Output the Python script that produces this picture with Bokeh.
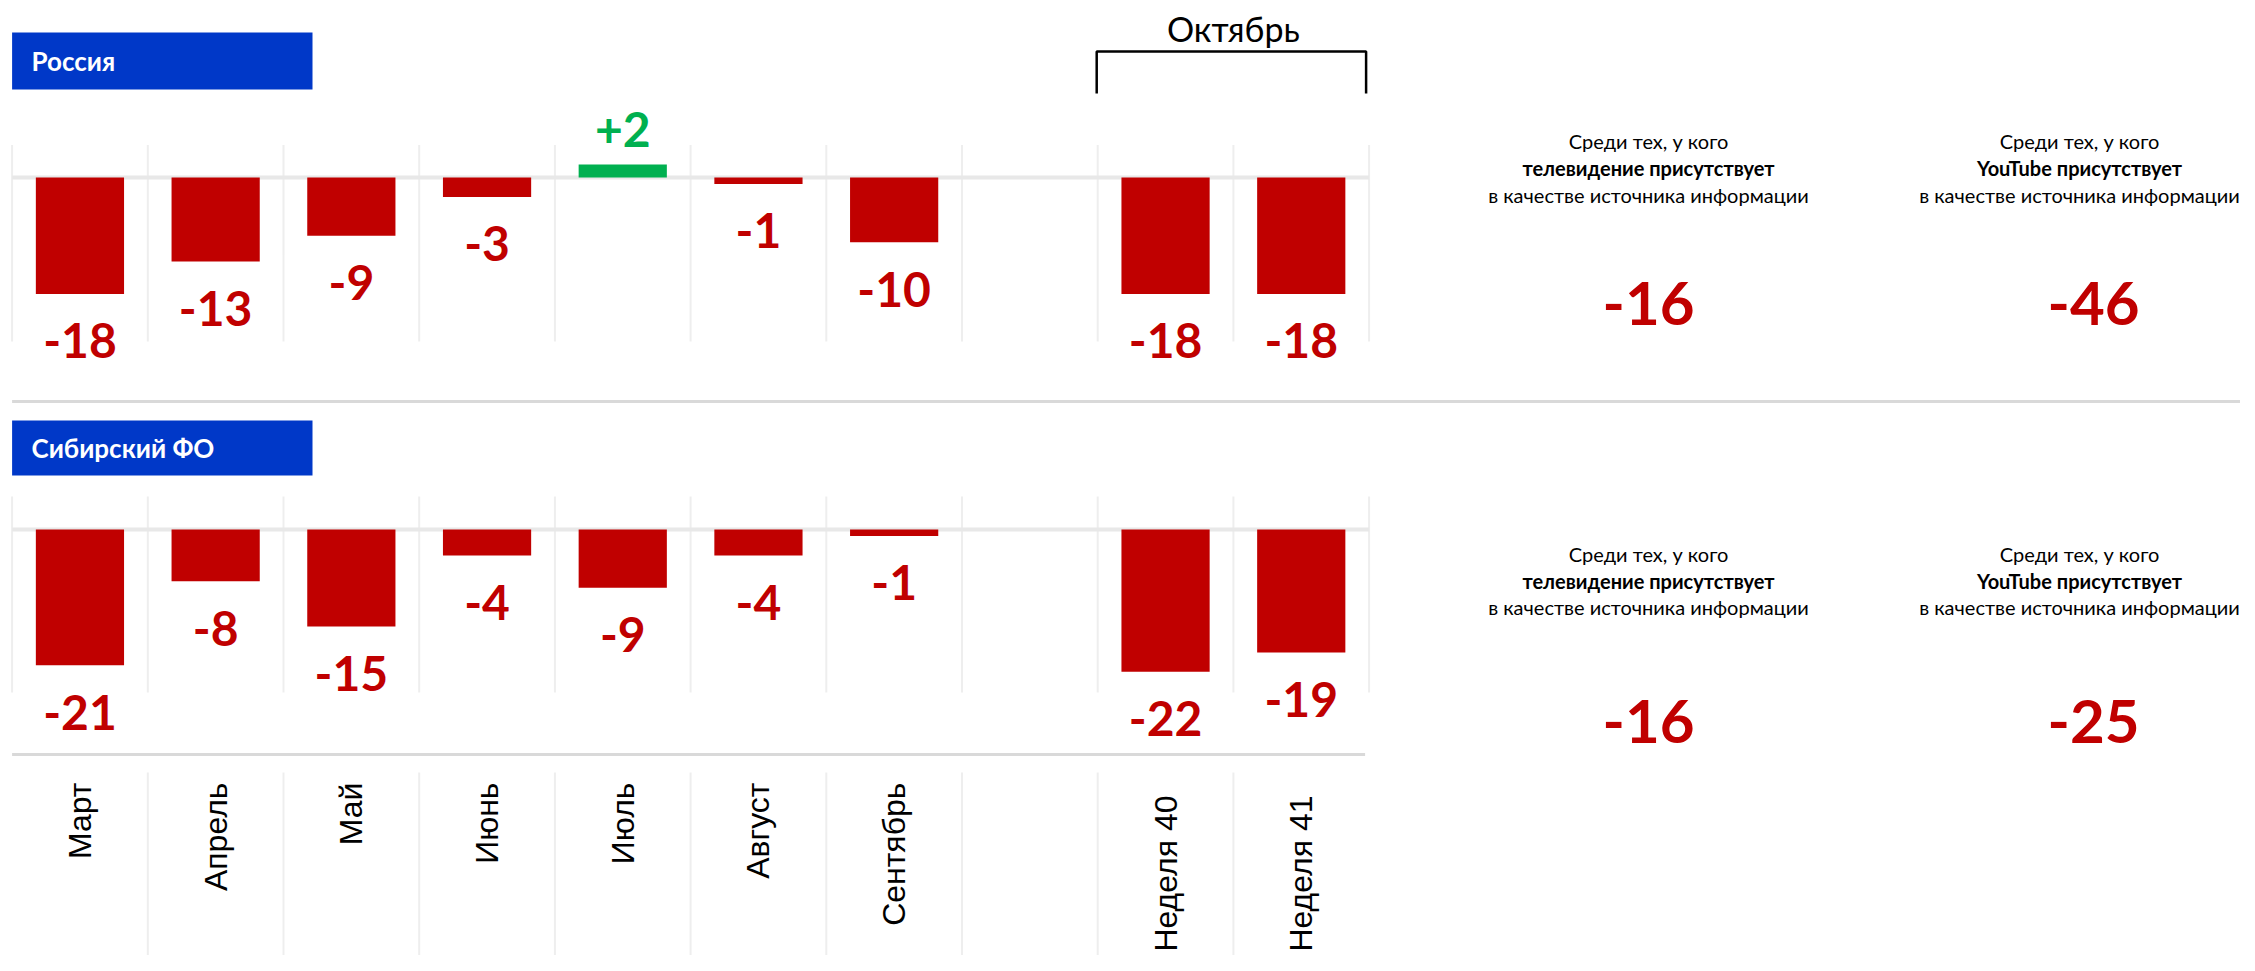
import math
from bokeh.plotting import figure
from bokeh.models import Range1d, ColumnDataSource
from bokeh.core.properties import value
from bokeh.embed import file_html
from bokeh.resources import INLINE

# ---------------- data ----------------
months = ["Март", "Апрель", "Май", "Июнь", "Июль", "Август", "Сентябрь"]
weeks = ["Неделя 40", "Неделя 41"]
period_title = "Октябрь"

russia_months = [-18, -13, -9, -3, 2, -1, -10]
russia_weeks = [-18, -18]
siberia_months = [-21, -8, -15, -4, -9, -4, -1]
siberia_weeks = [-22, -19]

panel_titles = ["Россия", "Сибирский ФО"]
tv_values = [-16, -16]
youtube_values = [-46, -25]
note_line1 = "Среди тех, у кого"
note_tv = "телевидение присутствует"
note_yt = "YouTube присутствует"
note_line3 = "в качестве источника информации"

# ---------------- layout ----------------
W, H = 2240, 955
SLOT_W = 135.7
X0 = 11.6
PXU = 6.47
Z1, Z2 = 177, 529
RED = "#C00000"
GREEN = "#00B050"
BLUE = "#0038C8"
GRID = "#EEEEEE"
SEP = "#D9D9D9"

p = figure(width=W, height=H, x_range=Range1d(0, W), y_range=Range1d(H, 0),
           output_backend="svg", toolbar_location=None,
           x_axis_location=None, y_axis_location=None,
           min_border=0, outline_line_color=None)
p.grid.visible = False
p.background_fill_color = "white"
p.border_fill_color = "white"

p.extra_x_ranges = {"slot": Range1d(-X0 / SLOT_W, (W - X0) / SLOT_W)}
p.extra_y_ranges = {"top": Range1d((Z1 - H) / PXU, Z1 / PXU),
                    "bot": Range1d((Z2 - H) / PXU, Z2 / PXU)}

categories = months + weeks
slots = list(range(len(months))) + [len(months) + 1 + j for j in range(len(weeks))]
n_slots = slots[-1] + 1
centers = [s + 0.5 for s in slots]


def px_x(slot_val):
    return X0 + slot_val * SLOT_W


# vertical gridlines in panels
for (gtop, gbot) in [(144.5, 341), (496, 692)]:
    p.segment(x0=list(range(n_slots + 1)), x1=list(range(n_slots + 1)),
              y0=[gtop] * (n_slots + 1), y1=[gbot] * (n_slots + 1),
              x_range_name="slot", line_color=GRID, line_width=2)
# gridlines in category label area (inner only)
inner = list(range(1, n_slots))
p.segment(x0=inner, x1=inner, y0=[772] * len(inner), y1=[H] * len(inner),
          x_range_name="slot", line_color=GRID, line_width=2)

# separators
p.line(x=[X0, W], y=[401, 401], line_color=SEP, line_width=3)
p.line(x=[X0, px_x(n_slots) - 4], y=[754, 754], line_color=SEP, line_width=3)

# title boxes
p.quad(left=[X0, X0], right=[312, 312], top=[32, 420], bottom=[89, 475],
       fill_color=BLUE, line_color=None)
p.text(x=[31, 31], y=[60.5, 447.5], text=panel_titles, text_color="white",
       text_font=value("Lato"), text_font_style="bold", text_font_size="26px",
       text_align="left", text_baseline="middle")

# October bracket
p.line(x=[px_x(slots[len(months)]) - 1] * 2 + [px_x(n_slots) - 3] * 2,
       y=[93, 51, 51, 93], line_color="black", line_width=2.5)
p.text(x=[(px_x(slots[len(months)]) + px_x(n_slots)) / 2], y=[28], text=[period_title],
       text_color="black", text_font=value("Lato"), text_font_size="34px",
       text_align="center", text_baseline="middle")


def draw_panel(vals, yname):
    colors = [GREEN if v > 0 else RED for v in vals]
    labels = [("+%d" % v) if v > 0 else str(v) for v in vals]
    offs = [-35 if v > 0 else 47 for v in vals]
    src = ColumnDataSource(dict(x=centers, v=vals, c=colors, t=labels, o=offs))
    p.segment(x0=[0], x1=[n_slots], y0=[0], y1=[0], x_range_name="slot",
              y_range_name=yname, line_color="#E8E8E8", line_width=4)
    p.vbar(x="x", top="v", bottom=0, width=0.65, fill_color="c", line_color=None,
           source=src, x_range_name="slot", y_range_name=yname)
    p.text(x="x", y="v", text="t", text_color="c", y_offset="o", source=src,
           x_range_name="slot", y_range_name=yname,
           text_font=value("Lato"), text_font_style="bold", text_font_size="48px",
           text_align="center", text_baseline="middle")


draw_panel(russia_months + russia_weeks, "top")
draw_panel(siberia_months + siberia_weeks, "bot")

# category labels (rotated)
lab_y = [782] * len(months) + [795] * len(weeks)
p.text(x=centers, y=lab_y, text=categories, angle=math.pi / 2, x_range_name="slot",
       text_font=value("Liberation Sans"), text_font_size="32px", text_color="black",
       text_align="right", text_baseline="middle")

# right-hand notes
note_x = [1648, 2079]
for (y1, y2, y3, yn, vals) in [(140.5, 167.5, 194.5, 303, [tv_values[0], youtube_values[0]]),
                               (553, 580, 606.5, 721, [tv_values[1], youtube_values[1]])]:
    p.text(x=note_x, y=[y1, y1], text=[note_line1] * 2, text_color="black",
           text_font=value("Lato"), text_font_size="20px",
           text_align="center", text_baseline="middle")
    p.text(x=note_x, y=[y2, y2], text=[note_tv, note_yt], text_color="black",
           text_font=value("Lato"), text_font_style="bold", text_font_size="20px",
           text_align="center", text_baseline="middle")
    p.text(x=note_x, y=[y3, y3], text=[note_line3] * 2, text_color="black",
           text_font=value("Lato"), text_font_size="20px",
           text_align="center", text_baseline="middle")
    p.text(x=[note_x[0], note_x[1] + 14], y=[yn, yn], text=[str(v) for v in vals],
           text_color=RED, text_font=value("Lato"), text_font_style="bold",
           text_font_size="60px", text_align="center", text_baseline="middle")

open("out.html", "w").write(file_html(p, INLINE))
